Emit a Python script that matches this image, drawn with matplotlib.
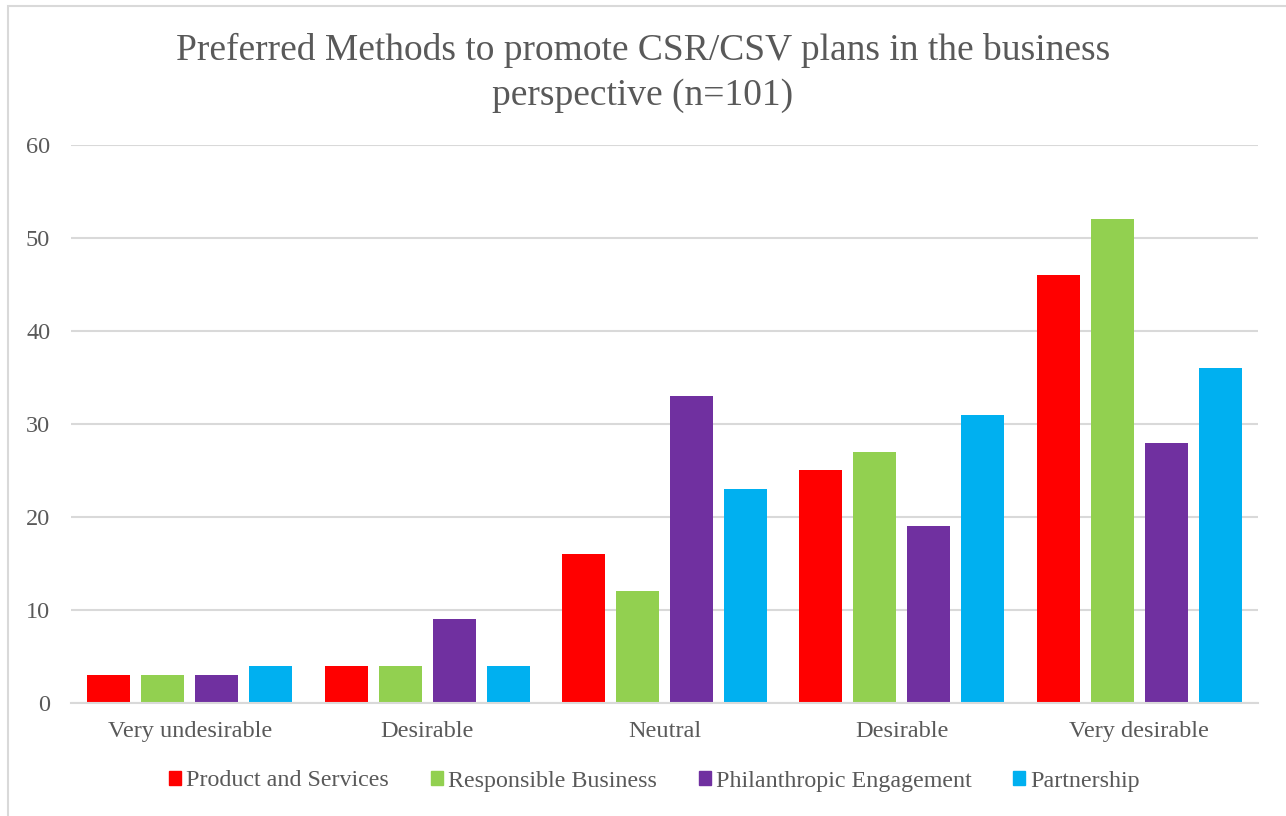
import numpy as np
import matplotlib
matplotlib.use("Agg")
import matplotlib.pyplot as plt
from matplotlib.patches import Rectangle

categories = ["Very undesirable", "Desirable", "Neutral", "Desirable", "Very desirable"]
series_names = ["Product and Services", "Responsible Business",
                "Philanthropic Engagement", "Partnership"]
product = [3, 4, 16, 25, 46]
responsible = [3, 4, 12, 27, 52]
philanthropic = [3, 9, 33, 19, 28]
partnership = [4, 4, 23, 31, 36]
colors = ["#FF0000", "#92D050", "#7030A0", "#00B0F0"]

plt.rcParams["font.family"] = ["Liberation Serif", "DejaVu Serif"]
text_color = "#595959"
grid_color = "#D9D9D9"

fig = plt.figure(figsize=(12.86, 8.16), dpi=100)
ax = fig.add_axes([0.0552, 0.1385, 0.9230, 0.6838])

# outer chart frame
fig.patches.append(Rectangle((8 / 1286, -0.1), 1.2, 1 - 6 / 816 + 0.1,
                             transform=fig.transFigure, fill=False,
                             edgecolor=grid_color, linewidth=1.5))

x = np.arange(len(categories))
width = 0.181
pitch = 0.2275
all_series = [product, responsible, philanthropic, partnership]
for i, (vals, name, c) in enumerate(zip(all_series, series_names, colors)):
    ax.bar(x + (i - 1.5) * pitch, vals, width, color=c, label=name, zorder=3)

ax.set_xlim(-0.5, len(categories) - 0.5)
ax.set_ylim(0, 60)
ax.set_yticks(range(0, 61, 10))
ax.yaxis.grid(True, color=grid_color, linewidth=1.5, zorder=0)
for s in ["top", "right", "left"]:
    ax.spines[s].set_visible(False)
ax.spines["bottom"].set_color(grid_color)
ax.spines["bottom"].set_linewidth(1.5)
ax.spines["bottom"].set_zorder(4)

ax.set_xticks(x)
ax.set_xticklabels(categories)
ax.tick_params(axis="both", length=0, labelsize=17.5, colors=text_color)
ax.tick_params(axis="y", pad=15)
ax.tick_params(axis="x", pad=13)

fig.text(0.5, 1 - 73 / 816, "Preferred Methods to promote CSR/CSV plans in the business\nperspective (n=101)",
         ha="center", va="center", fontsize=27, color=text_color, linespacing=1.38)

handles = [Rectangle((0, 0), 1, 1, color=c) for c in colors]
leg = fig.legend(handles, series_names, loc="center", bbox_to_anchor=(0.509, 1 - 781 / 816),
                 ncol=4, frameon=False, fontsize=17.3, handlelength=0.5, handleheight=0.55,
                 handletextpad=0.2, columnspacing=1.75)
for t in leg.get_texts():
    t.set_color(text_color)

fig.savefig("out.png", dpi=100)
